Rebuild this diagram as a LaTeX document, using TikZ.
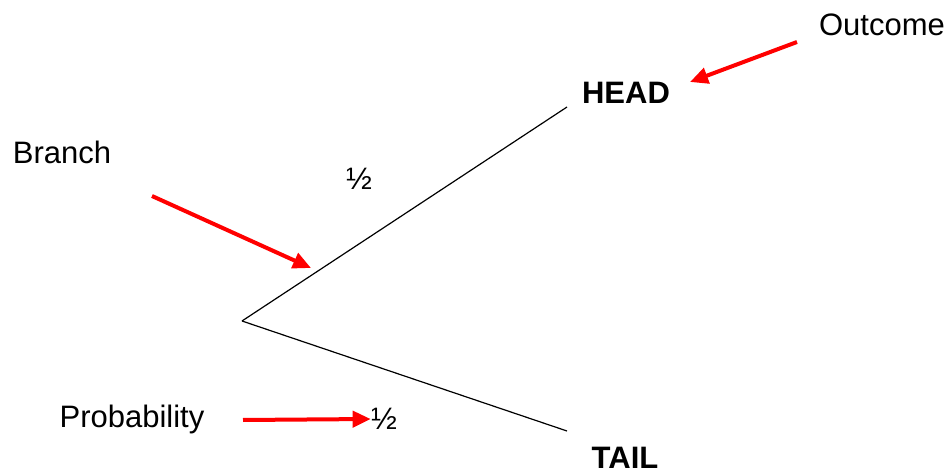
\documentclass[tikz,border=0pt]{standalone}
\usepackage{fontspec}
\setmainfont{Liberation Sans}
\usetikzlibrary{arrows.meta, positioning}
\definecolor{pointer}{RGB}{255, 0, 0}
\tikzset{
    label_text/.style={font=\fontsize{15.5}{18}\selectfont, inner sep=0pt},
    outcome_text/.style={font=\fontsize{15.5}{18}\selectfont\bfseries, inner sep=0pt},
    branch/.style={line width=0.6pt, color=black},
    pointer_arrow/.style={-{Triangle[length=9pt, width=8pt]}, line width=2pt, color=pointer}
}
\begin{document}
\begin{tikzpicture}[x=0.5pt, y=-0.5pt]

    \useasboundingbox (0,0) rectangle (952,475);

    % tree
    \coordinate (root) at (242,321);
    \coordinate (headend) at (567,107);
    \coordinate (tailend) at (567,431);
    \node (head) [outcome_text] at (626,93) {HEAD};
    \node (tail) [outcome_text] at (625,458) {TAIL};
    \node (phead) [label_text] at (359,179) {½};
    \node (ptail) [label_text] at (384,419) {½};

    \draw [branch] (root) -- (headend);
    \draw [branch] (root) -- (tailend);

    % annotations
    \node (outcome) [label_text] at (882,25) {Outcome};
    \node (branchlbl) [label_text] at (62,152) {Branch};
    \node (problbl) [label_text] at (132,419) {Probability};

    \coordinate (outcomestart) at (797,42);
    \coordinate (outcomeend) at (690,82);
    \coordinate (branchstart) at (152,196);
    \coordinate (branchend) at (311,268);
    \coordinate (probstart) at (243,420);

    \draw [pointer_arrow] (outcomestart) -- (outcomeend);
    \draw [pointer_arrow] (branchstart) -- (branchend);
    \draw [pointer_arrow] (probstart) -- (ptail.west);

\end{tikzpicture}
\end{document}
